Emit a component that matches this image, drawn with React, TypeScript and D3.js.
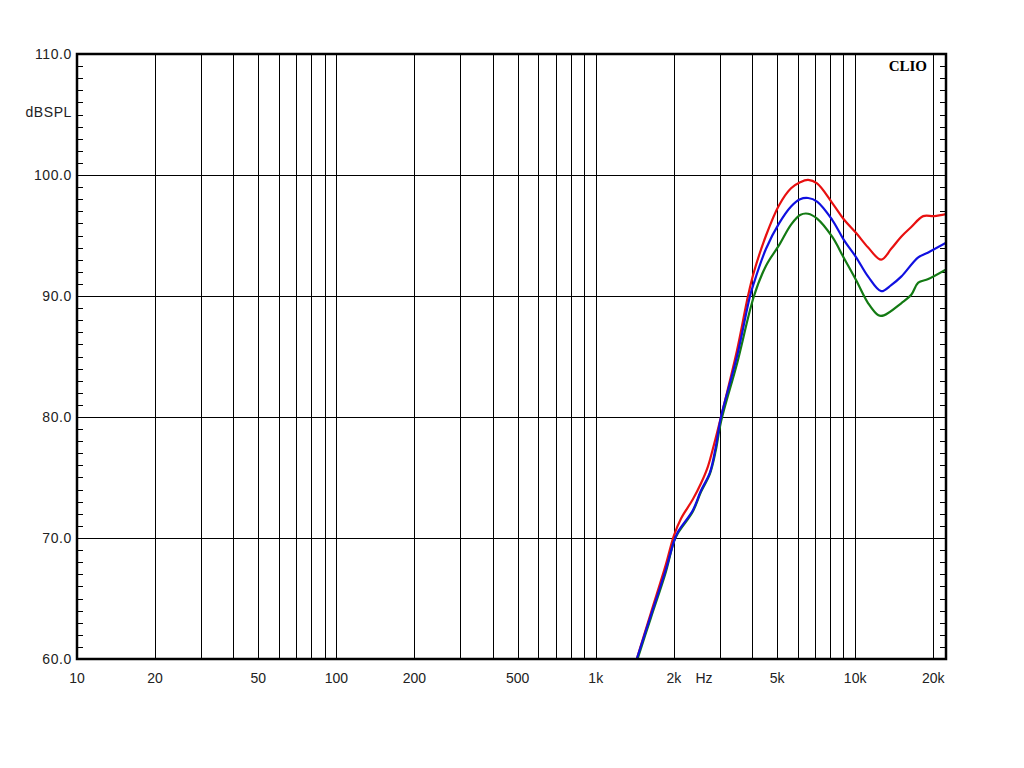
import React from "react";
import * as d3 from "d3";

const yTicks = [60, 70, 80, 90, 100, 110];
const xGrid = [20, 30, 40, 50, 60, 70, 80, 90, 100, 200, 300, 400, 500, 600, 700, 800, 900, 1000, 2000, 3000, 4000, 5000, 6000, 7000, 8000, 9000, 10000, 20000];
const xLabels: [number, string][] = [
  [10, "10"], [20, "20"], [50, "50"], [100, "100"], [200, "200"], [500, "500"],
  [1000, "1k"], [2000, "2k"], [5000, "5k"], [10000, "10k"], [20000, "20k"],
];

const redFreq = [1250, 1439, 1631, 1863, 2001, 2130, 2368, 2543, 2706, 2855, 3039, 3503, 3863, 4074, 4533, 5089, 5661, 6133, 6586, 7133, 8152, 9070, 10090, 11225, 12601, 13770, 15050, 16455, 18300, 20185, 22870];
const redDb = [55.7, 60, 63.8, 67.8, 70.2, 71.6, 73.2, 74.5, 75.9, 77.7, 80, 85.5, 90, 92.0, 95.0, 97.5, 98.9, 99.4, 99.6, 99.3, 97.7, 96.3, 95.2, 94.0, 93.0, 93.9, 94.9, 95.7, 96.6, 96.6, 96.8];

const blueFreq = [1250, 1439, 1631, 1863, 2001, 2073, 2368, 2543, 2754, 2900, 3039, 3503, 3933, 4074, 4533, 5089, 5661, 6133, 6586, 7133, 8152, 9070, 10090, 11225, 12601, 13770, 15050, 17510, 19140, 22870];
const blueDb = [55.7, 60, 63.6, 67.4, 69.7, 70.5, 72.3, 73.9, 75.4, 77.5, 80, 85.0, 90, 91.1, 93.9, 96.0, 97.4, 98.0, 98.1, 97.8, 96.3, 94.6, 93.2, 91.6, 90.4, 90.9, 91.6, 93.2, 93.6, 94.5];

const greenFreq = [1250, 1439, 1631, 1863, 2001, 2073, 2368, 2543, 2754, 2900, 3039, 3503, 4074, 4533, 5089, 5661, 6133, 6586, 7133, 8152, 9070, 10090, 11225, 12300, 12900, 15050, 16455, 17510, 19140, 22870];
const greenDb = [55.5, 59.8, 63.4, 67.2, 69.7, 70.4, 72.2, 73.8, 75.3, 77.2, 79.6, 84.4, 90, 92.5, 94.2, 95.9, 96.7, 96.8, 96.4, 94.9, 93.1, 91.3, 89.4, 88.4, 88.4, 89.4, 90.1, 91.1, 91.4, 92.3];

const L = 77, R = 946, T = 54, B = 659;

export default function App() {
  const x = d3.scaleLog().domain([10, 22400]).range([L, R]);
  const y = d3.scaleLinear().domain([60, 110]).range([B, T]);
  const line = d3
    .line<[number, number]>()
    .x((d) => x(d[0]))
    .y((d) => y(d[1]))
    .curve(d3.curveCatmullRom.alpha(0.5));
  const mk = (f: number[], v: number[]) => line(f.map((ff, i) => [ff, v[i]] as [number, number])) || "";
  const minor = d3.range(61, 110).filter((v) => v % 10 !== 0);
  const font = "'Liberation Sans', Arial, sans-serif";
  const series = [
    { d: mk(redFreq, redDb), c: "#e81010" },
    { d: mk(greenFreq, greenDb), c: "#137a13" },
    { d: mk(blueFreq, blueDb), c: "#1010e0" },
  ];
  return (
    <svg width={1024} height={768} style={{ position: "absolute", left: 0, top: 0, background: "#fff" }}>
      <rect x={0} y={0} width={1024} height={768} fill="#fff" />
      <defs>
        <clipPath id="plotclip">
          <rect x={L} y={T} width={R - L} height={B - T} />
        </clipPath>
      </defs>
      {xGrid.map((f) => (
        <line key={"vx" + f} x1={Math.round(x(f)) + 0.5} x2={Math.round(x(f)) + 0.5} y1={T} y2={B} stroke="#000" strokeWidth={1} />
      ))}
      {yTicks.slice(1, -1).map((v) => (
        <line key={"hy" + v} x1={L} x2={R} y1={Math.round(y(v)) + 0.5} y2={Math.round(y(v)) + 0.5} stroke="#000" strokeWidth={1} />
      ))}
      {minor.map((v) => (
        <g key={"m" + v}>
          <line x1={L} x2={L + 6} y1={Math.round(y(v)) + 0.5} y2={Math.round(y(v)) + 0.5} stroke="#000" strokeWidth={1} />
          <line x1={R - 6} x2={R} y1={Math.round(y(v)) + 0.5} y2={Math.round(y(v)) + 0.5} stroke="#000" strokeWidth={1} />
        </g>
      ))}
      <g clipPath="url(#plotclip)">
        {series.map((s, i) => (
          <path key={i} d={s.d} fill="none" stroke={s.c} strokeWidth={2.2} strokeLinejoin="round" />
        ))}
      </g>
      <rect x={L} y={T} width={R - L} height={B - T} fill="none" stroke="#000" strokeWidth={2.5} />
      {yTicks.map((v) => (
        <text key={"yl" + v} x={72} y={y(v)} dy="0.36em" textAnchor="end" fontFamily={font} fontSize={14} letterSpacing={0.6} fill="#222">
          {v.toFixed(1)}
        </text>
      ))}
      <text x={72} y={y(105.2)} dy="0.36em" textAnchor="end" fontFamily={font} fontSize={14} letterSpacing={0.6} fill="#222">
        dBSPL
      </text>
      {xLabels.map(([f, t]) => (
        <text key={"xl" + f} x={x(f)} y={678} dy="0.36em" textAnchor="middle" fontFamily={font} fontSize={14} fill="#222">
          {t}
        </text>
      ))}
      <text x={704} y={678} dy="0.36em" textAnchor="middle" fontFamily={font} fontSize={14} fill="#222">
        Hz
      </text>
      <text x={927} y={66} dy="0.36em" textAnchor="end" fontFamily="'Liberation Serif', 'Times New Roman', serif" fontWeight="bold" fontSize={15} fill="#000">
        CLIO
      </text>
    </svg>
  );
}
